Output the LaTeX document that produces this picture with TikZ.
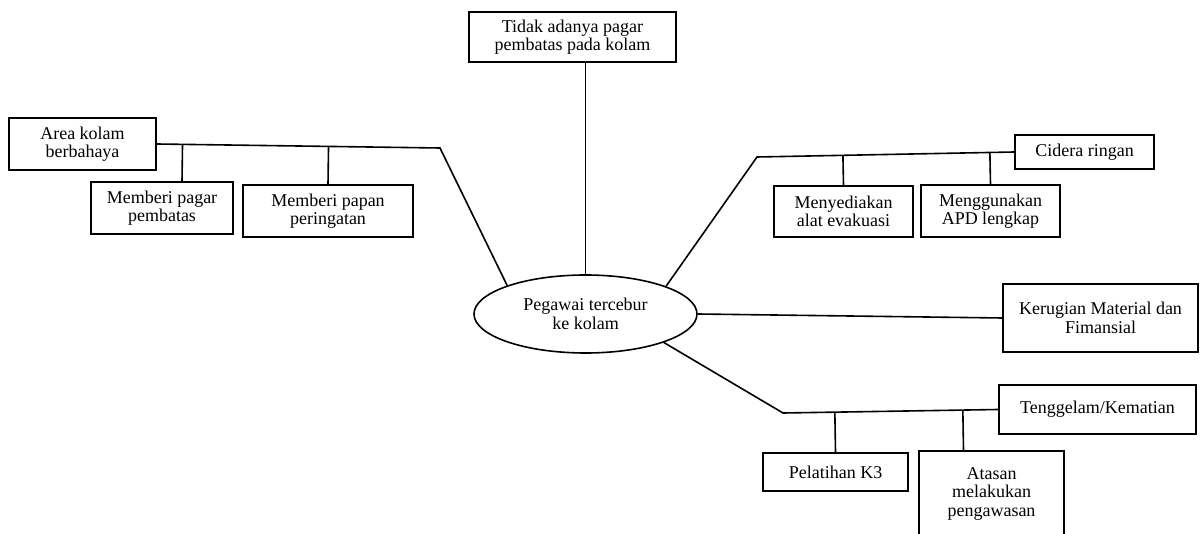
\documentclass[tikz,border=0pt]{standalone}
\usepackage{fontspec}
\setmainfont{Liberation Serif}
\usetikzlibrary{shapes.geometric,calc}

\begin{document}
\begin{tikzpicture}[x=1pt, y=-1pt, line width=1.6pt,
    kotak/.style={draw, align=center, inner sep=0pt, font=\fontsize{18}{18.5}\selectfont},
    oval/.style={draw, ellipse, align=center, inner sep=0pt, font=\fontsize{18}{18.5}\selectfont}]
        \useasboundingbox (0,0) rectangle (1200,534);
        \clip (0,0) rectangle (1200,534);
        % pusat
        \node[oval, minimum width=223pt, minimum height=78pt] (pg) at (585.5,314) {Pegawai tercebur\\ke kolam};
        % kotak-kotak
        \node[kotak, minimum width=207pt, minimum height=50pt] (tidak) at (572.5,37) {Tidak adanya pagar\\pembatas pada kolam};
        \node[kotak, minimum width=147pt, minimum height=52pt] (area) at (82.5,144) {Area kolam\\berbahaya};
        \node[kotak, minimum width=142pt, minimum height=52pt] (pagar) at (162,208) {Memberi pagar\\pembatas};
        \node[kotak, minimum width=170pt, minimum height=52pt] (papan) at (328,211) {Memberi papan\\peringatan};
        \node[kotak, minimum width=139pt, minimum height=34pt] (cidera) at (1084.5,152) {Cidera ringan};
        \node[kotak, minimum width=139pt, minimum height=51pt] (sedia) at (843.5,211.5) {Menyediakan\\alat evakuasi};
        \node[kotak, minimum width=139pt, minimum height=52pt] (apd) at (990.5,211) {Menggunakan\\APD lengkap};
        \node[kotak, minimum width=195pt, minimum height=68pt] (rugi) at (1100.5,318) {Kerugian Material dan\\Fimansial};
        \node[kotak, minimum width=197pt, minimum height=49pt] (tenggelam) at (1097.5,409.5) {Tenggelam/Kematian};
        \node[kotak, minimum width=145pt, minimum height=38pt] (k3) at (835.5,472) {Pelatihan K3};
        \node[kotak, minimum width=145pt, minimum height=86pt] (atasan) at (991.5,494) {Atasan\\melakukan\\pengawasan};
        % titik belok
        \coordinate (a1) at (440,148);
        \coordinate (c1) at (757,157);
        \coordinate (t1) at (783,413);
        % garis
        \draw (pg.north) to (pg.north |- tidak.south);
        \draw (area.east) to (a1) to (pg.160);
        \draw ($(pagar.north)+(20,0)$) to ($(area.east)!($(pagar.north)+(20,0)$)!(a1)$);
        \draw (papan.north) to ($(area.east)!(papan.north)!(a1)$);
        \draw (pg.19) to (c1) to (cidera.west);
        \draw (sedia.north) to ($(c1)!(sedia.north)!(cidera.west)$);
        \draw (apd.north) to ($(c1)!(apd.north)!(cidera.west)$);
        \draw (pg.east) to (rugi.west);
        \draw (pg.-20) to (t1) to (tenggelam.west);
        \draw (k3.north) to ($(t1)!(k3.north)!(tenggelam.west)$);
        \draw ($(atasan.north)+(-28,0)$) to ($(t1)!($(atasan.north)+(-28,0)$)!(tenggelam.west)$);
    \end{tikzpicture}
\end{document}
